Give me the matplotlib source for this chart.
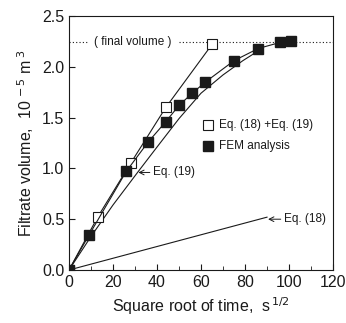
import numpy as np
import matplotlib
matplotlib.use("Agg")
import matplotlib.pyplot as plt
from matplotlib.ticker import MultipleLocator

plt.rcParams['font.family'] = ['Liberation Sans', 'DejaVu Sans']

# Eq. (18) + Eq. (19), open squares
x_sum = [0, 13, 28, 44, 65]
y_sum = [0.0, 0.52, 1.05, 1.60, 2.22]

# FEM analysis, filled squares
x_fem = [0, 9, 26, 36, 44, 50, 56, 62, 75, 86, 96, 101]
y_fem = [0.0, 0.34, 0.97, 1.26, 1.46, 1.62, 1.74, 1.85, 2.06, 2.18, 2.24, 2.25]

# Eq. (19) curve
x_eq19 = [0, 10, 20, 31.5, 40, 50, 60, 70, 79, 87]
y_eq19 = [0.0, 0.33, 0.64, 0.97, 1.21, 1.49, 1.74, 1.92, 2.06, 2.17]

# Eq. (18) straight line
x_eq18 = [0, 90]
y_eq18 = [0.0, 0.52]

final_volume = 2.24

fig = plt.figure(figsize=(3.46, 3.23), dpi=100)
ax = fig.add_axes([69/346, 53/323, 264/346, 254/323])

ink = '#1a1a1a'
ax.axhline(final_volume, color=ink, lw=0.8, ls=(0, (1, 2)), zorder=1)
ax.text(29, final_volume, '( final volume )', ha='center', va='center', fontsize=8.5,
        color=ink, backgroundcolor='white', zorder=2)

ax.plot(x_eq19, y_eq19, color=ink, lw=0.8, zorder=3)
ax.plot(x_eq18, y_eq18, color=ink, lw=0.8, zorder=3)
ax.plot(x_sum, y_sum, color=ink, lw=0.8, marker='s', ms=7, mfc='white', mec=ink, mew=0.8, zorder=4)
ax.plot(x_fem, y_fem, color=ink, lw=0.8, marker='s', ms=7, mfc=ink, mec=ink, zorder=5)

# annotations
ax.annotate('Eq. (19)', xy=(31.5, 0.96), xytext=(38, 0.96), fontsize=8.5, color=ink, va='center',
            arrowprops=dict(arrowstyle='->', color=ink, lw=0.7, shrinkA=0, shrinkB=0))
ax.annotate('Eq. (18)', xy=(90.5, 0.50), xytext=(97.5, 0.50), fontsize=8.5, color=ink, va='center',
            arrowprops=dict(arrowstyle='->', color=ink, lw=0.7, shrinkA=0, shrinkB=0))

# legend drawn as markers + text
ax.plot([63], [1.43], marker='s', ms=7, mfc='white', mec=ink, mew=0.8, ls='none')
ax.text(68, 1.43, 'Eq. (18) +Eq. (19)', fontsize=8.5, color=ink, va='center')
ax.plot([63], [1.22], marker='s', ms=7, mfc=ink, mec=ink, ls='none')
ax.text(68, 1.22, 'FEM analysis', fontsize=8.5, color=ink, va='center')

ax.set_xlim(0, 120)
ax.set_ylim(0, 2.5)
ax.xaxis.set_major_locator(MultipleLocator(20))
ax.xaxis.set_minor_locator(MultipleLocator(10))
ax.set_yticks([0.0, 0.5, 1.0, 1.5, 2.0, 2.5])
ax.set_yticklabels(['0.0', '0.5', '1.0', '1.5', '2.0', '2.5'])
ax.tick_params(direction='in', which='both', labelsize=11.5, colors=ink, length=4)
ax.tick_params(which='minor', length=3)
for s in ax.spines.values():
    s.set_linewidth(0.8)
    s.set_color(ink)

ax.set_xlabel('Square root of time,  s$^{\\,1/2}$', fontsize=11.5, color=ink)
ax.set_ylabel('Filtrate volume,  10$^{\\,-5}$ m$^{\\,3}$', fontsize=11.5, color=ink)

fig.savefig('out.png', dpi=100)
